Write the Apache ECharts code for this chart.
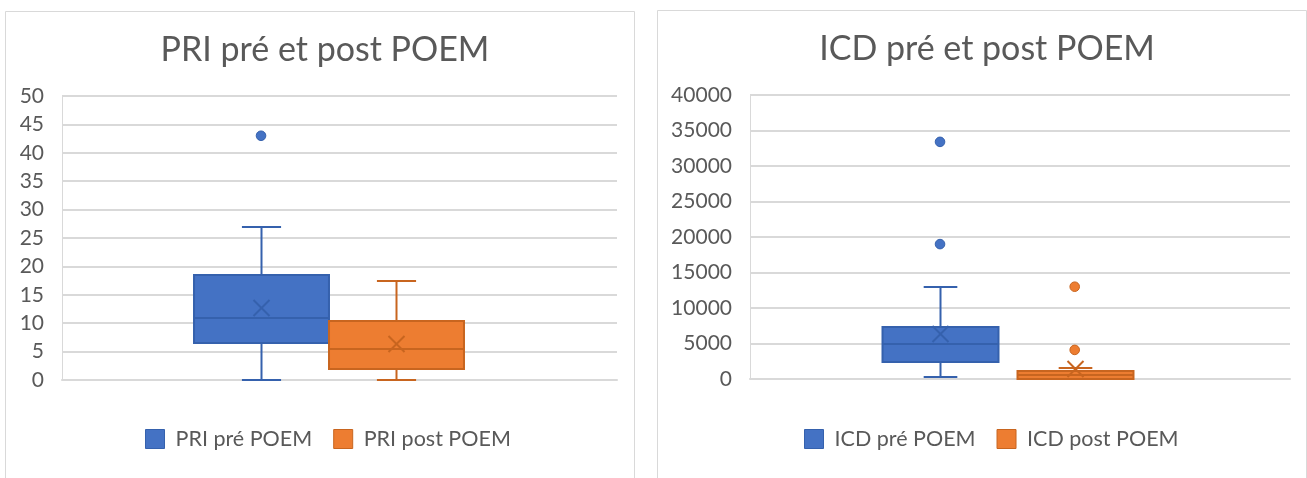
<!DOCTYPE html>
<html><head><meta charset="utf-8">
<script src="https://cdn.jsdelivr.net/npm/echarts@6/dist/echarts.min.js"></script>
<style>html,body{margin:0;padding:0;background:#fff}#c{width:1307px;height:478px}</style>
</head><body><div id="c"></div>
<script>
// ---------- data ----------
const CATEGORY = [''];
const PRI_TITLE = 'PRI pré et post POEM';
const PRI_SERIES = ['PRI pré POEM', 'PRI post POEM'];
// [min, q1, median, q3, max]
const PRI_PRE_FIVE = [0, 6.6, 11, 18.5, 27];
const PRI_PRE_MEAN = 12.7;
const PRI_PRE_OUTLIERS = [43];
const PRI_POST_FIVE = [0, 1.9, 5.5, 10.4, 17.5];
const PRI_POST_MEAN = 6.4;
const PRI_POST_OUTLIERS = [];
const PRI_AXIS = [0, 50, 5]; // min, max, interval

const ICD_TITLE = 'ICD pré et post POEM';
const ICD_SERIES = ['ICD pré POEM', 'ICD post POEM'];
const ICD_PRE_FIVE = [300, 2400, 4950, 7350, 12900];
const ICD_PRE_MEAN = 6400;
const ICD_PRE_OUTLIERS = [19000, 33400];
const ICD_POST_FIVE = [0, 50, 600, 1100, 1600];
const ICD_POST_MEAN = 1450;
const ICD_POST_OUTLIERS = [4100, 13000];
const ICD_AXIS = [0, 40000, 5000];

// ---------- style ----------
const BLUE = '#4472C4', BLUE_D = '#3561AD';
const ORANGE = '#ED7D31', ORANGE_D = '#C8651F';
const TXT = '#595959', GRID = '#d9d9d9';
const FONT = 'Lato';

function boxRender(offFrac, wFrac, capFrac, fill, stroke) {
  return function (params, api) {
    const cat = api.value(0);
    const band = api.size([1, 0])[0];
    const cx = Math.round(api.coord([cat, 0])[0] + offFrac * band) + 0.5;
    const w = wFrac * band;
    const cap = capFrac * w;
    const y = i => Math.round(api.coord([cat, api.value(i)])[1]);
    const yMin = y(1), yQ1 = y(2), yMed = y(3), yQ3 = y(4), yMax = y(5), yMean = y(6);
    const ls = { stroke: stroke, lineWidth: 2, fill: null };
    const L = (x1, y1, x2, y2) => ({ type: 'line', shape: { x1, y1, x2, y2 }, style: ls });
    const m = 8;
    return {
      type: 'group',
      children: [
        L(cx, yMin, cx, yQ1),
        L(cx, yQ3, cx, yMax),
        L(cx - cap / 2, yMin, cx + cap / 2, yMin),
        L(cx - cap / 2, yMax, cx + cap / 2, yMax),
        { type: 'rect', shape: { x: cx - w / 2, y: yQ3, width: w, height: Math.max(1, yQ1 - yQ3) },
          style: { fill: fill, stroke: stroke, lineWidth: 2 } },
        L(cx - w / 2, yMed, cx + w / 2, yMed),
        L(cx - m, yMean - m, cx + m, yMean + m),
        L(cx - m, yMean + m, cx + m, yMean - m)
      ]
    };
  };
}
function outlierRender(offFrac, fill, stroke) {
  return function (params, api) {
    const cat = api.value(0);
    const band = api.size([1, 0])[0];
    const p = api.coord([cat, api.value(1)]);
    return { type: 'circle', shape: { cx: p[0] + offFrac * band, cy: p[1], r: 4.8 },
      style: { fill: fill, stroke: stroke, lineWidth: 1 } };
  };
}

function boxSeries(name, gi, five, mean, off, wf, cf, fill, stroke) {
  return { type: 'custom', name: name, xAxisIndex: gi, yAxisIndex: gi,
    itemStyle: { color: fill, borderColor: stroke },
    renderItem: boxRender(off, wf, cf, fill, stroke),
    encode: { x: 0, y: [1, 2, 3, 4, 5, 6] },
    data: [[0].concat(five, [mean])], z: 3 };
}
function outSeries(name, gi, outs, off, fill, stroke) {
  return { type: 'custom', name: name, xAxisIndex: gi, yAxisIndex: gi,
    itemStyle: { color: fill },
    renderItem: outlierRender(off, fill, stroke),
    encode: { x: 0, y: 1 },
    data: outs.map(v => [0, v]), z: 4 };
}

const grids = [
  { left: 62, top: 96, width: 555, height: 284 },
  { left: 750, top: 95, width: 540, height: 284 }
];
const axes = [PRI_AXIS, ICD_AXIS];

function legendFor(names, left) {
  return { data: names.map((n, i) => ({ name: n, icon: 'rect',
      itemStyle: { color: i ? ORANGE : BLUE, borderColor: i ? ORANGE_D : BLUE_D, borderWidth: 1 } })),
    left: left, top: 428, padding: 0, itemWidth: 19, itemHeight: 19, itemGap: 21,
    textStyle: { fontFamily: FONT, fontSize: 21.5, color: TXT, padding: [0, 0, 0, 6] } };
}

const option = {
  animation: false,
  backgroundColor: '#fff',
  textStyle: { fontFamily: FONT },
  graphic: [
    { type: 'rect', shape: { x: 5.5, y: 11.5, width: 629, height: 480 }, style: { fill: null, stroke: GRID, lineWidth: 1 } },
    { type: 'rect', shape: { x: 657.5, y: 10.5, width: 649, height: 480 }, style: { fill: null, stroke: GRID, lineWidth: 1 } }
  ],
  title: [
    { text: PRI_TITLE, left: 320, top: 28, textAlign: 'center',
      textStyle: { fontFamily: FONT, fontSize: 34, fontWeight: 'normal', color: TXT } },
    { text: ICD_TITLE, left: 982, top: 27, textAlign: 'center',
      textStyle: { fontFamily: FONT, fontSize: 34, fontWeight: 'normal', color: TXT } }
  ],
  legend: [legendFor(PRI_SERIES, 145), legendFor(ICD_SERIES, 804)],
  grid: grids,
  xAxis: grids.map((g, i) => ({ type: 'category', gridIndex: i, data: CATEGORY,
    axisLine: { show: true, lineStyle: { color: GRID, width: 2 } },
    axisTick: { show: false }, axisLabel: { show: false } })),
  yAxis: axes.map((a, i) => ({ type: 'value', gridIndex: i, min: a[0], max: a[1], interval: a[2],
    axisLine: { show: true, lineStyle: { color: GRID, width: 1 } },
    axisTick: { show: false },
    splitLine: { lineStyle: { color: GRID, width: 2 } },
    axisLabel: { color: TXT, fontFamily: FONT, fontSize: 21, margin: 18,
      formatter: v => String(v) } })),
  series: [
    boxSeries(PRI_SERIES[0], 0, PRI_PRE_FIVE, PRI_PRE_MEAN, -0.1414, 0.2432, 0.29, BLUE, BLUE_D),
    outSeries(PRI_SERIES[0], 0, PRI_PRE_OUTLIERS, -0.1414, BLUE, BLUE_D),
    boxSeries(PRI_SERIES[1], 0, PRI_POST_FIVE, PRI_POST_MEAN, 0.1018, 0.2432, 0.29, ORANGE, ORANGE_D),
    outSeries(PRI_SERIES[1], 0, PRI_POST_OUTLIERS, 0.1018, ORANGE, ORANGE_D),
    boxSeries(ICD_SERIES[0], 1, ICD_PRE_FIVE, ICD_PRE_MEAN, -0.1481, 0.2148, 0.29, BLUE, BLUE_D),
    outSeries(ICD_SERIES[0], 1, ICD_PRE_OUTLIERS, -0.1481, BLUE, BLUE_D),
    boxSeries(ICD_SERIES[1], 1, ICD_POST_FIVE, ICD_POST_MEAN, 0.1013, 0.2148, 0.29, ORANGE, ORANGE_D),
    outSeries(ICD_SERIES[1], 1, ICD_POST_OUTLIERS, 0.1013, ORANGE, ORANGE_D)
  ]
};
const chart = echarts.init(document.getElementById('c'), null, { renderer: 'canvas' });
chart.setOption(option);
</script></body></html>
